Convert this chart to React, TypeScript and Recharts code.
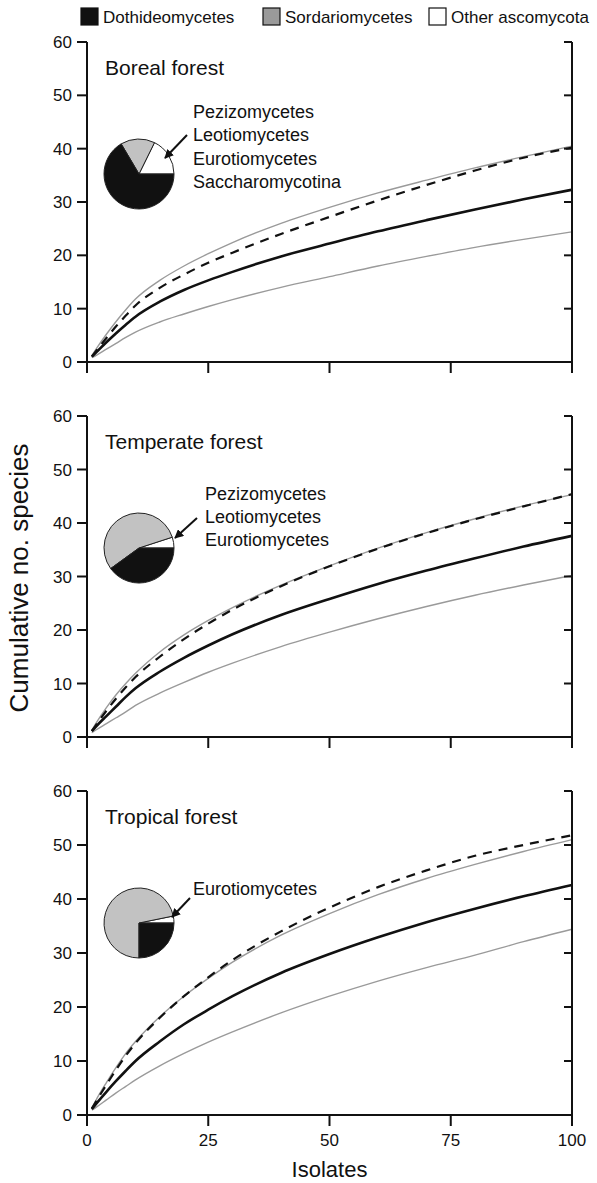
import { Cell, Line, LineChart, Pie, PieChart, XAxis, YAxis } from "recharts";

const isolates = [1, 2, 4, 6, 8, 10, 15, 20, 25, 30, 40, 50, 60, 70, 80, 90, 100];
const xTicks = [0, 25, 50, 75, 100];
const yTicks = [0, 10, 20, 30, 40, 50, 60];

// boreal forest
const borealObserved = [1.0, 1.9, 3.7, 5.4, 7.0, 8.5, 11.3, 13.5, 15.3, 16.9, 19.8, 22.2, 24.5, 26.6, 28.6, 30.5, 32.3];
const borealUpper = [1.2, 2.6, 5.2, 7.6, 9.8, 11.8, 15.3, 18.0, 20.3, 22.4, 26.0, 29.0, 31.7, 34.1, 36.4, 38.5, 40.5];
const borealLower = [0.8, 1.3, 2.4, 3.5, 4.6, 5.6, 7.5, 9.0, 10.4, 11.7, 14.0, 16.0, 18.0, 19.8, 21.5, 23.0, 24.4];
const borealEstimate = [1.0, 2.2, 4.5, 6.7, 8.7, 10.6, 13.9, 16.4, 18.6, 20.5, 24.0, 27.2, 30.3, 33.2, 35.9, 38.3, 40.2];

// temperate forest
const temperateObserved = [1.1, 2.1, 3.9, 5.7, 7.5, 9.1, 12.2, 14.8, 17.1, 19.2, 22.8, 25.8, 28.6, 31.1, 33.4, 35.6, 37.6];
const temperateUpper = [1.3, 2.8, 5.5, 7.9, 10.0, 11.9, 15.9, 19.1, 21.8, 24.2, 28.4, 32.0, 35.3, 38.2, 40.8, 43.2, 45.3];
const temperateLower = [0.8, 1.4, 2.5, 3.6, 4.7, 5.9, 8.2, 10.2, 12.1, 13.8, 16.9, 19.6, 22.1, 24.4, 26.5, 28.4, 30.2];
const temperateEstimate = [1.1, 2.4, 4.9, 7.2, 9.3, 11.2, 15.0, 18.3, 21.2, 23.8, 28.2, 31.9, 35.2, 38.1, 40.7, 43.1, 45.4];

// tropical forest
const tropicalObserved = [1.1, 2.2, 4.3, 6.3, 8.2, 10.0, 13.6, 16.8, 19.5, 22.0, 26.3, 29.8, 32.9, 35.7, 38.2, 40.5, 42.6];
const tropicalUpper = [1.3, 3.0, 6.0, 8.8, 11.4, 13.6, 18.2, 22.0, 25.3, 28.3, 33.3, 37.3, 40.8, 43.8, 46.4, 48.8, 51.0];
const tropicalLower = [0.9, 1.5, 2.8, 4.1, 5.3, 6.5, 9.1, 11.4, 13.5, 15.4, 18.9, 22.0, 24.8, 27.3, 29.6, 32.1, 34.4];
const tropicalEstimate = [1.2, 2.7, 5.6, 8.4, 11.0, 13.3, 18.0, 22.0, 25.5, 28.7, 34.0, 38.4, 42.2, 45.3, 48.0, 50.0, 51.8];

// pie shares, counter-clockwise from 3 o'clock
const classes = ["Other ascomycota", "Sordariomycetes", "Dothideomycetes"];
const borealShares = [17.7, 15.8, 66.5];
const temperateShares = [5, 55, 40];
const tropicalShares = [3.2, 71.8, 25];
const sliceColors = ["#ffffff", "#c2c2c2", "#111111"];

const legendItems = ["Dothideomycetes", "Sordariomycetes", "Other ascomycota"];
const legendFills = ["#111111", "#9a9a9a", "#ffffff"];

const font = "'Liberation Sans', Arial, Helvetica, sans-serif";
const ink = "#111";

function toRows(observed: number[], upper: number[], lower: number[], estimate: number[]) {
  return isolates.map((x, i) => ({ x, observed: observed[i], upper: upper[i], lower: lower[i], estimate: estimate[i] }));
}

// keeps the tick line of an axis but draws no label
const NoLabel = () => <g />;

type PanelProps = {
  top: number;
  height: number;
  plotTop: number;
  plotHeight: number;
  axisHeight: number;
  rows: ReturnType<typeof toRows>;
  last?: boolean;
};

function Panel({ top, height, plotTop, plotHeight, axisHeight, rows, last }: PanelProps) {
  const axisLine = { stroke: ink, strokeWidth: 2 };
  const bottom = height - plotTop - plotHeight - axisHeight;
  return (
    <div style={{ position: "absolute", left: 0, top, width: 597, height }}>
      <LineChart width={597} height={height} data={rows} margin={{ top: plotTop, right: 5, bottom, left: 0 }}>
        <XAxis xAxisId="top" orientation="top" type="number" dataKey="x" domain={[0, 100]} allowDataOverflow height={0} tick={false} tickLine={false} axisLine={axisLine} />
        <XAxis
          type="number"
          dataKey="x"
          domain={[0, 100]}
          ticks={xTicks}
          height={axisHeight}
          tickSize={11}
          tickMargin={8}
          axisLine={axisLine}
          tickLine={{ stroke: ink, strokeWidth: 2 }}
          tick={last ? { fontSize: 17, fill: ink, fontFamily: font } : NoLabel}
          label={last ? { value: "Isolates", position: "insideBottom", offset: 0, fontSize: 22, fill: ink, fontFamily: font } : undefined}
        />
        <YAxis
          domain={[0, 60]}
          ticks={yTicks}
          width={87}
          tickSize={10}
          tickMargin={5}
          axisLine={axisLine}
          tickLine={{ stroke: ink, strokeWidth: 2 }}
          tick={{ fontSize: 17, fill: ink, fontFamily: font }}
        />
        {/* right frame: negative tick size turns the ticks inward */}
        <YAxis
          yAxisId="right"
          orientation="right"
          allowDataOverflow
          domain={[0, 60]}
          ticks={yTicks}
          interval={0}
          width={20}
          tickSize={-8}
          tickMargin={0}
          tick={NoLabel}
          axisLine={axisLine}
          tickLine={{ stroke: ink, strokeWidth: 2 }}
        />
        <Line dataKey="lower" type="monotone" stroke="#9a9a9a" strokeWidth={1.4} dot={false} isAnimationActive={false} />
        <Line yAxisId="right" dataKey="upper" type="monotone" stroke="#9a9a9a" strokeWidth={1.4} dot={false} isAnimationActive={false} />
        <Line dataKey="observed" type="monotone" stroke={ink} strokeWidth={2.6} dot={false} isAnimationActive={false} />
        <Line dataKey="estimate" type="monotone" stroke={ink} strokeWidth={2.2} strokeDasharray="9 7" dot={false} isAnimationActive={false} />
      </LineChart>
    </div>
  );
}

function ClassPie({ left, top, shares }: { left: number; top: number; shares: number[] }) {
  const data = classes.map((name, i) => ({ name, value: shares[i] }));
  return (
    <div style={{ position: "absolute", left, top, width: 80, height: 80 }}>
      <PieChart width={80} height={80} margin={{ top: 0, right: 0, bottom: 0, left: 0 }}>
        <Pie data={data} dataKey="value" nameKey="name" cx={40} cy={40} outerRadius={35} startAngle={0} endAngle={360} stroke="#222" strokeWidth={1} isAnimationActive={false}>
          {data.map((d, i) => (
            <Cell key={d.name} fill={sliceColors[i]} />
          ))}
        </Pie>
      </PieChart>
    </div>
  );
}

const panels = [
  { title: "Boreal forest", top: 0, height: 380, plotTop: 42, plotHeight: 320, axisHeight: 18, rows: toRows(borealObserved, borealUpper, borealLower, borealEstimate), shares: borealShares, notes: ["Pezizomycetes", "Leotiomycetes", "Eurotiomycetes", "Saccharomycotina"], noteX: 193, noteY: 76, arrow: [187, 93, 165, 116] },
  { title: "Temperate forest", top: 380, height: 375, plotTop: 36, plotHeight: 321, axisHeight: 18, rows: toRows(temperateObserved, temperateUpper, temperateLower, temperateEstimate), shares: temperateShares, notes: ["Pezizomycetes", "Leotiomycetes", "Eurotiomycetes"], noteX: 205, noteY: 83.5, arrow: [197, 102, 175, 122] },
  { title: "Tropical forest", top: 755, height: 428, plotTop: 36, plotHeight: 324, axisHeight: 62, rows: toRows(tropicalObserved, tropicalUpper, tropicalLower, tropicalEstimate), shares: tropicalShares, notes: ["Eurotiomycetes"], noteX: 193, noteY: 103.5, arrow: [190, 107, 172, 126] },
];

export default function App() {
  return (
    <div style={{ position: "absolute", left: 0, top: 0, width: 597, height: 1183, background: "#fff", fontFamily: font, overflow: "hidden" }}>
      {panels.map((p, i) => (
        <Panel key={p.title} top={p.top} height={p.height} plotTop={p.plotTop} plotHeight={p.plotHeight} axisHeight={p.axisHeight} rows={p.rows} last={i === panels.length - 1} />
      ))}
      {panels.map((p) => (
        <ClassPie key={p.title} left={139 - 40} top={p.top + p.plotTop + 132 - 40} shares={p.shares} />
      ))}
      <svg width={597} height={1183} style={{ position: "absolute", left: 0, top: 0, pointerEvents: "none" }}>
        <defs>
          <marker id="head" viewBox="0 0 10 10" refX="9" refY="5" markerWidth="4.5" markerHeight="4.5" orient="auto">
            <path d="M0,0 L10,5 L0,10 z" fill={ink} />
          </marker>
        </defs>
        {legendItems.map((name, i) => {
          const x = [81, 263, 429][i];
          return (
            <g key={name}>
              <rect x={x} y={8} width={17} height={17} fill={legendFills[i]} stroke={ink} strokeWidth={1.2} />
              <text x={x + 22} y={23} fontSize={17} fill={ink} fontFamily={font}>{name}</text>
            </g>
          );
        })}
        <text transform="translate(28,578) rotate(-90)" textAnchor="middle" fontSize={26} fill={ink} fontFamily={font}>Cumulative no. species</text>
        {panels.map((p) => {
          const y0 = p.top + p.plotTop;
          const [x1, a1, x2, a2] = p.arrow;
          return (
            <g key={p.title}>
              <text x={105} y={y0 + 33} fontSize={21} fill={ink} fontFamily={font}>{p.title}</text>
              {p.notes.map((n, j) => (
                <text key={n} x={p.noteX} y={y0 + p.noteY + j * 23.3} fontSize={18} fill={ink} fontFamily={font}>{n}</text>
              ))}
              <line x1={x1} y1={y0 + a1} x2={x2} y2={y0 + a2} stroke={ink} strokeWidth={2} markerEnd="url(#head)" />
            </g>
          );
        })}
      </svg>
    </div>
  );
}
